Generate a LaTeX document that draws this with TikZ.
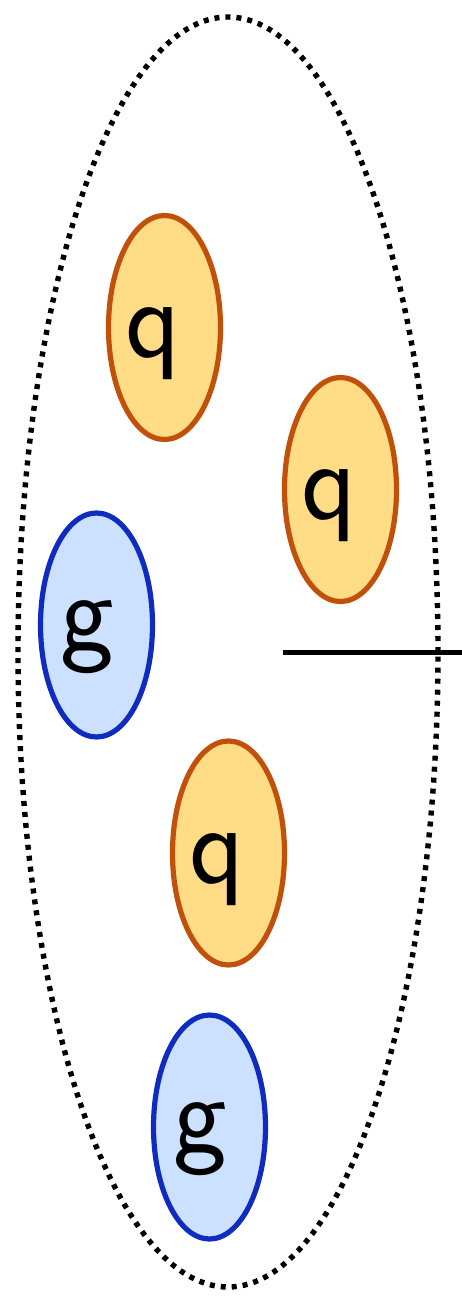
\documentclass[tikz,border=0pt]{standalone}
\usepackage{fontspec}
\usetikzlibrary{shapes.geometric}
\definecolor{qfill}{RGB}{255,220,133}
\definecolor{qdraw}{RGB}{192,80,10}
\definecolor{gfill}{RGB}{204,224,255}
\definecolor{gdraw}{RGB}{16,44,192}
\tikzset{
  blob/.style={ellipse, inner sep=0pt, minimum width=112pt, minimum height=224pt, line width=5.2pt},
  qblob/.style={blob, draw=qdraw, fill=qfill},
  gblob/.style={blob, draw=gdraw, fill=gfill},
  lbl/.style={anchor=base, inner sep=0pt, font=\sffamily\fontsize{114}{114}\selectfont},
  bag/.style={ellipse, draw, inner sep=0pt, minimum width=420pt, minimum height=1270pt, line width=5.4pt, dash pattern=on 5pt off 6pt}
}
\begin{document}
\begin{tikzpicture}[x=1pt,y=-1pt]
\useasboundingbox (0,0) rectangle (462,1297);
\node[bag] (bag) at (228,652) {};
\node[qblob] (q1) at (164.5,327.5) {};
\node[qblob] (q2) at (340.5,489.5) {};
\node[gblob] (g1) at (96.5,625) {};
\node[qblob] (q3) at (228.5,853) {};
\node[gblob] (g2) at (209.5,1127) {};
\node[lbl] (t1) at ([xshift=-11pt,yshift=-30pt]q1.center) {q};
\node[lbl] (t2) at ([xshift=-11pt,yshift=-30pt]q2.center) {q};
\node[lbl] (t3) at ([xshift=-11pt,yshift=-30pt]q3.center) {q};
\node[lbl] (t4) at ([xshift=-9.5pt,yshift=-25pt]g1.center) {g};
\node[lbl] (t5) at ([xshift=-9.5pt,yshift=-25pt]g2.center) {g};
\coordinate (l1) at (283,652);
\coordinate (l2) at (462,652);
\draw[line width=5pt] (l1) -- (l2);
\end{tikzpicture}
\end{document}
